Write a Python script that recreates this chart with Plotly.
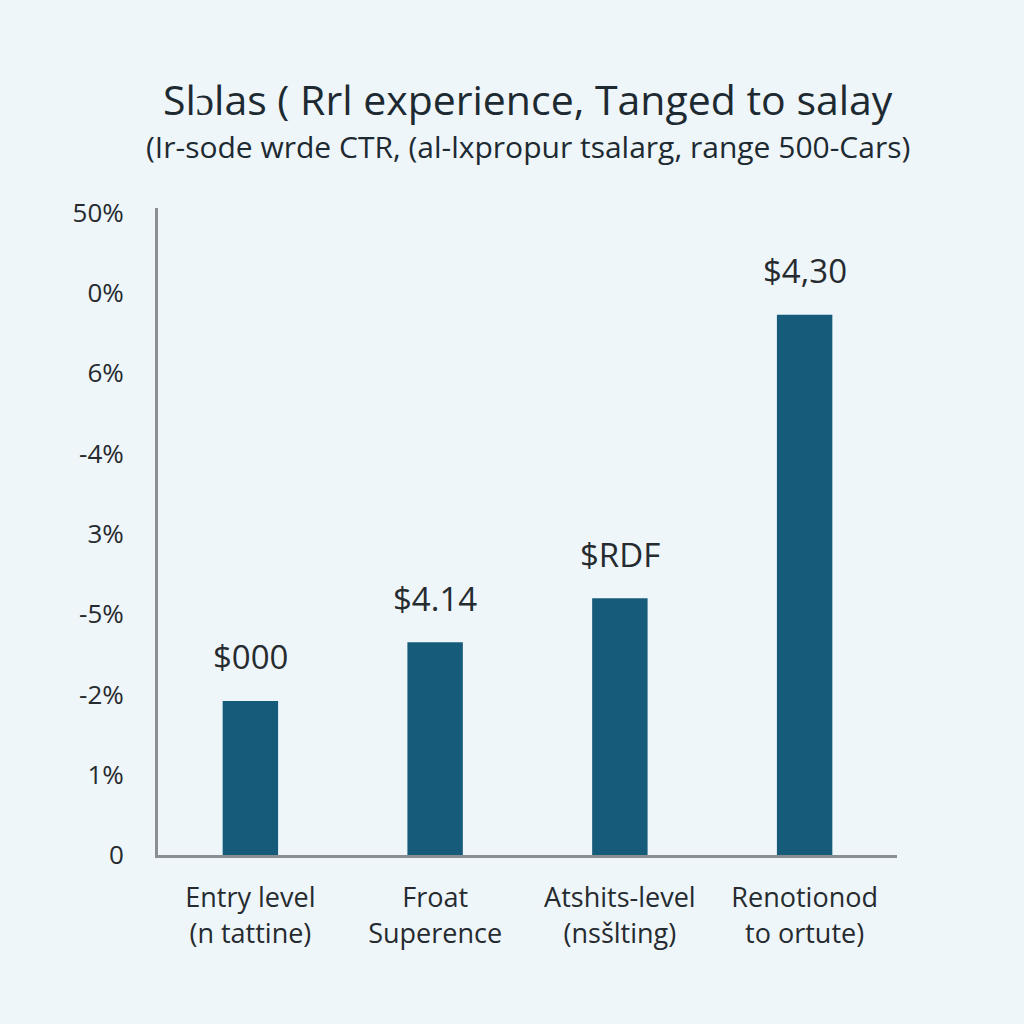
import plotly.graph_objects as go

categories = ["Entry level<br>(n tattine)", "Froat<br>Superence", "Atshits-level<br>(nsšlting)", "Renotionod<br>to ortute)"]
values = [1.92, 2.65, 3.20, 6.73]
bar_labels = ["$000", "$4.14", "$RDF", "$4,30"]
tick_vals = [0, 1, 2, 3, 4, 5, 6, 7, 8]
tick_text = ["0", "1%", "-2%", "-5%", "3%", "-4%", "6%", "0%", "50%"]
title_text = "Slɔlas ( Rrl experience, Tanged to salay"
subtitle_text = "(Ir-sode wrde CTR, (al-lxpropur tsalarg, range 500-Cars)"

BG = "#eef6fa"
BAR = "#175b7a"
TXT = "#262b2f"
FONT = "Open Sans"

fig = go.Figure(go.Bar(
    x=categories, y=values, marker=dict(color=BAR, line=dict(width=0)),
    width=0.30, hoverinfo="skip",
))

for c, v, t in zip(categories, values, bar_labels):
    fig.add_annotation(x=c, y=v, text=t, showarrow=False, yanchor="middle",
                       yshift=44, font=dict(family=FONT, size=33, color=TXT))

fig.add_annotation(x=0.5, y=99, xref="paper", yref="paper", text=title_text,
                   showarrow=False, font=dict(family=FONT, size=41, color="#1e2a31"))
fig.add_annotation(x=0.5, y=147, xref="paper", yref="paper", text=subtitle_text,
                   showarrow=False, font=dict(family=FONT, size=30, color="#1e2a31"))

fig.update_layout(
    width=1024, height=1024,
    paper_bgcolor=BG, plot_bgcolor=BG,
    margin=dict(l=158, r=127, t=208, b=169),
    showlegend=False,
    font=dict(family=FONT, color=TXT),
    xaxis=dict(range=[-0.5, 3.5], showgrid=False, zeroline=False,
               showline=True, linecolor="#8a8f93", linewidth=3,
               ticks="", tickfont=dict(family=FONT, size=27, color=TXT),
               ticklabelstandoff=17),
    yaxis=dict(range=[0, 8.06], showgrid=False, zeroline=False,
               showline=True, linecolor="#8a8f93", linewidth=3,
               ticks="", tickvals=tick_vals, ticktext=tick_text,
               tickfont=dict(family=FONT, size=26, color=TXT),
               ticklabelstandoff=26),
)

plot_h = 1024 - 208 - 169
for a in fig.layout.annotations:
    if a.xref == "paper":
        px_from_top = a.y
        a.y = (1024 - 169 - px_from_top) / plot_h
        a.yanchor = "middle"

fig.write_html("out.html", config={"displayModeBar": False},
               post_script="document.body.style.margin='0';document.body.style.background='" + BG + "';")
